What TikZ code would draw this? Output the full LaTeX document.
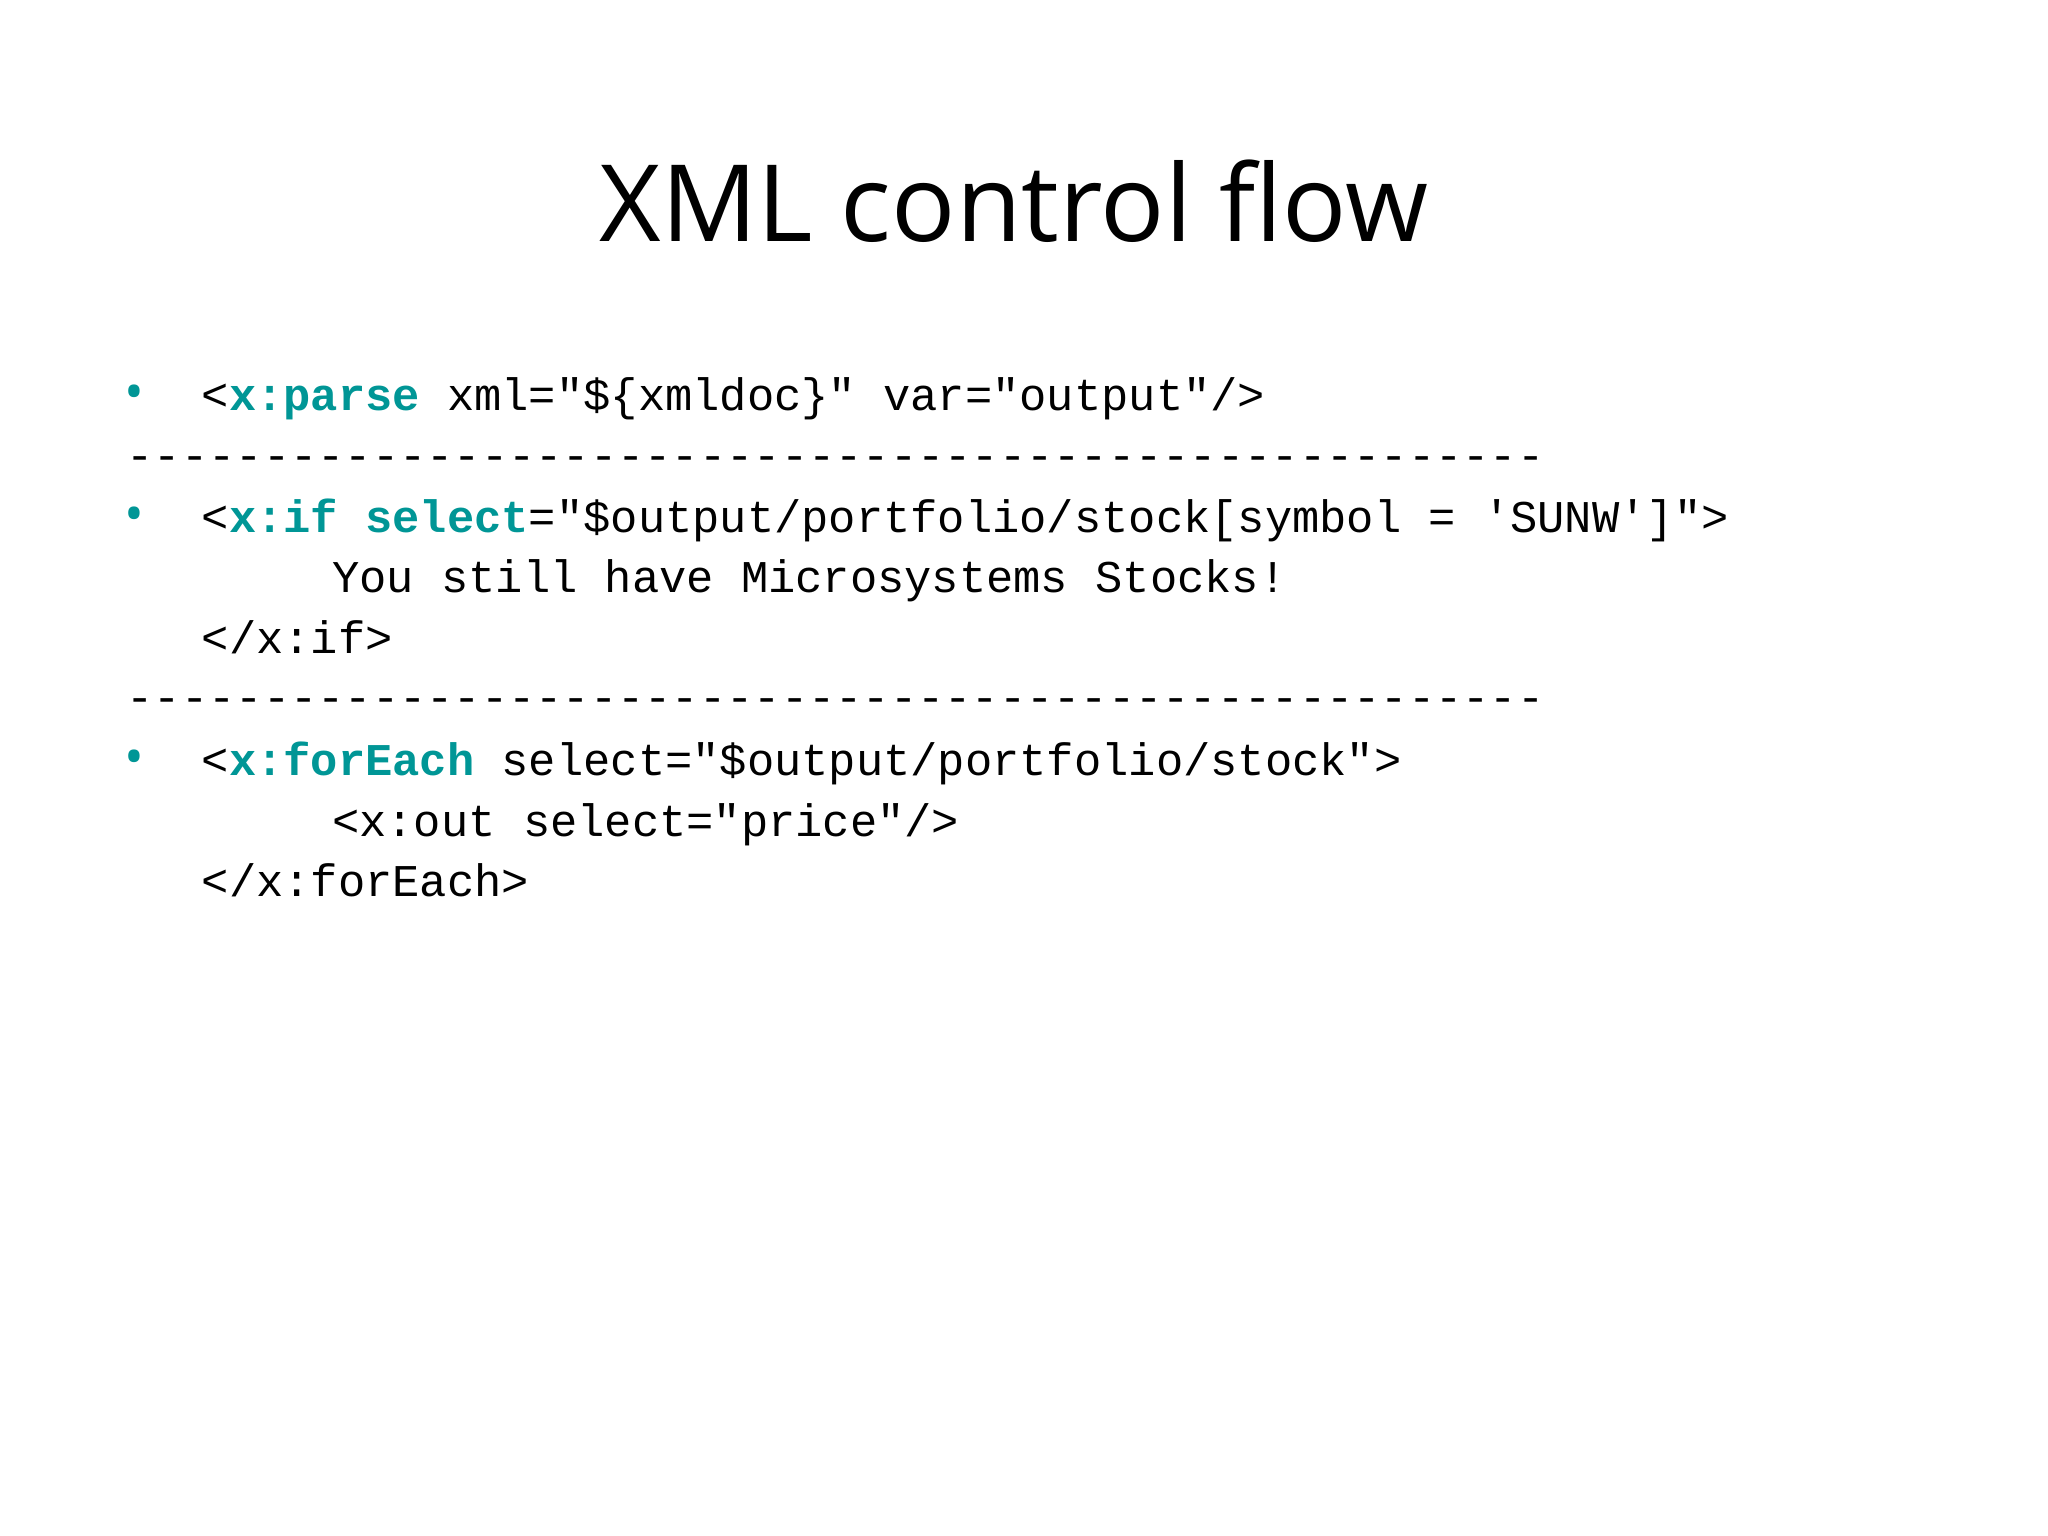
\documentclass[tikz,border=0pt]{standalone}
\usepackage{fontspec}
\setmainfont{Open Sans}
\newfontfamily\codefont{Liberation Mono}
\definecolor{teal1}{RGB}{0,150,150}
\begin{document}
\begin{tikzpicture}[x=1pt,y=-1pt,
  code/.style={anchor=base west,inner sep=0pt,font=\codefont\fontsize{34.5}{40}\selectfont},
  bul/.style={anchor=base west,inner sep=0pt,text=teal1,font=\fontsize{40}{40}\selectfont}]
\useasboundingbox[fill=white] (0,0) rectangle (1555,1166);
\node[anchor=base,inner sep=0pt,font=\fontsize{81}{90}\selectfont] (title) at (770,183) {XML control flow};
\node[bul] (b1) at (94,312) {•};
\node[code] (l1) at (153,312) {<\textcolor{teal1}{\bfseries x:parse} xml="\$\{xmldoc\}" var="output"/>};
\node[code] (d1) at (96,357) {----------------------------------------------------};
\node[bul] (b2) at (94,404) {•};
\node[code] (l2) at (153,404) {<\textcolor{teal1}{\bfseries x:if select}="\$output/portfolio/stock[symbol = 'SUNW']">};
\node[code] (l3) at (252,450) {You still have Microsystems Stocks!};
\node[code] (l4) at (153,496) {</x:if>};
\node[code] (d2) at (96,541) {----------------------------------------------------};
\node[bul] (b3) at (94,589) {•};
\node[code] (l5) at (153,589) {<\textcolor{teal1}{\bfseries x:forEach} select="\$output/portfolio/stock">};
\node[code] (l6) at (252,635) {<x:out select="price"/>};
\node[code] (l7) at (153,681) {</x:forEach>};
\end{tikzpicture}
\end{document}
